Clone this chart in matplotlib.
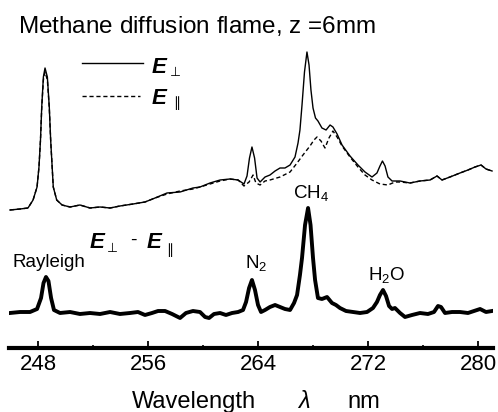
import matplotlib
matplotlib.use("Agg")
import matplotlib.pyplot as plt

plt.rcParams["font.family"] = ["Liberation Sans", "DejaVu Sans"]
plt.rcParams["mathtext.fontset"] = "custom"
plt.rcParams["mathtext.rm"] = "Liberation Sans"
plt.rcParams["mathtext.it"] = "Liberation Sans:italic"
plt.rcParams["mathtext.default"] = "regular"

# E_perp spectrum (solid), wavelength in nm / intensity in arb. units
perp_wl = [245.96, 246.69, 247.27, 247.64, 247.93, 248.07, 248.18, 248.27, 248.39, 248.51,
           248.68, 248.82, 248.92, 249.11, 249.36, 249.75, 250.33, 251.05, 251.78, 252.51,
           253.24, 253.96, 254.91, 255.78, 256.51, 257.38, 258.33, 259.27, 259.78, 260.51,
           261.24, 261.96, 262.55, 262.98, 263.2, 263.38, 263.56, 263.75, 263.93, 264.15,
           264.51, 264.87, 265.24, 265.6, 265.96, 266.33, 266.69, 266.91, 267.05, 267.2,
           267.38, 267.56, 267.71, 267.85, 268.0, 268.18, 268.36, 268.65, 268.95, 269.24,
           269.45, 269.75, 270.11, 270.69, 271.27, 271.78, 272.29, 272.65, 272.87, 273.05,
           273.24, 273.45, 273.75, 274.33, 275.05, 275.78, 276.51, 277.02, 277.38, 277.96,
           278.69, 279.27, 279.78, 280.22, 280.58, 281.02]
perp_int = [138, 139, 140, 148, 161, 181, 208, 241, 271, 280,
            271, 241, 208, 161, 148, 143, 141, 143, 140, 141,
            140, 142, 144, 146, 150, 155, 156, 160, 161, 165,
            168, 169, 168, 164, 172, 190, 201, 190, 170, 166,
            171, 173, 177, 180, 180, 183, 191, 205, 218, 243,
            276, 296, 283, 258, 240, 230, 227, 220, 218, 223,
            221, 214, 203, 192, 183, 176, 171, 175, 182, 187,
            182, 171, 167, 167, 165, 167, 168, 172, 168, 171,
            175, 178, 181, 183, 179, 177]

# E_par spectrum (dashed)
par_wl = [245.96, 246.69, 247.27, 247.64, 247.93, 248.07, 248.18, 248.27, 248.39, 248.51,
          248.68, 248.82, 248.92, 249.11, 249.36, 249.75, 250.33, 251.05, 251.78, 252.51,
          253.24, 253.96, 254.91, 255.78, 256.51, 257.38, 258.33, 259.27, 259.78, 260.51,
          261.24, 261.96, 262.55, 262.98, 263.35, 263.64, 263.85, 264.15, 264.51, 264.87,
          265.6, 266.33, 266.84, 267.27, 267.78, 268.07, 268.29, 268.58, 268.87, 269.16,
          269.45, 269.75, 270.11, 270.69, 271.27, 271.78, 272.29, 272.87, 273.45, 273.96,
          274.33, 275.05, 275.78, 276.51, 277.02, 277.38, 277.96, 278.69, 279.27, 279.78,
          280.22, 280.58, 281.02]
par_int = [138, 139, 140, 148, 161, 181, 208, 240, 268, 276,
           268, 240, 208, 161, 148, 143, 141, 143, 140, 141,
           140, 142, 144, 146, 150, 154, 157, 159, 161, 164,
           167, 169, 168, 162, 166, 173, 165, 163, 167, 168,
           171, 176, 185, 193, 202, 208, 211, 207, 200, 210,
           217, 211, 202, 191, 181, 173, 168, 164, 163, 166,
           166, 165, 167, 168, 172, 168, 171, 175, 178, 181,
           183, 179, 177]

# E_perp - E_par (thick)
diff_wl = [245.96, 246.69, 247.42, 247.93, 248.22, 248.4, 248.58, 248.76, 248.95, 249.16,
           249.6, 250.33, 251.05, 251.78, 252.51, 253.24, 253.96, 254.69, 255.27, 255.78,
           256.29, 256.73, 257.24, 257.75, 258.33, 258.76, 259.27, 259.78, 260.15, 260.44,
           260.8, 261.24, 261.67, 262.11, 262.55, 262.91, 263.13, 263.35, 263.56, 263.78,
           264.0, 264.22, 264.51, 264.87, 265.24, 265.6, 265.96, 266.33, 266.62, 266.84,
           267.05, 267.2, 267.42, 267.64, 267.82, 268.0, 268.15, 268.36, 268.65, 269.02,
           269.38, 269.67, 269.96, 270.4, 270.91, 271.42, 271.93, 272.36, 272.65, 272.87,
           273.09, 273.31, 273.53, 273.75, 273.96, 274.33, 274.69, 275.2, 275.78, 276.36,
           276.8, 277.09, 277.31, 277.6, 278.11, 278.69, 279.27, 279.71, 280.15, 280.58,
           281.02]
diff_int = [35, 36, 36, 39, 50, 65, 71, 67, 50, 38,
            35, 36, 34, 35, 34, 36, 34, 35, 36, 33,
            35, 37, 37, 34, 30, 35, 37, 36, 31, 30,
            34, 35, 33, 35, 36, 38, 46, 60, 68, 58,
            43, 36, 38, 41, 43, 41, 39, 38, 45, 53,
            73, 90, 123, 140, 123, 90, 68, 50, 49, 51,
            45, 43, 40, 37, 36, 35, 36, 40, 46, 53,
            58, 52, 42, 39, 40, 35, 31, 33, 35, 34,
            36, 42, 41, 35, 36, 36, 35, 37, 39, 36,
            37]

major_ticks = [248, 256, 264, 272, 280]
minor_ticks = [252, 260, 268, 276]

fig = plt.figure(figsize=(4.98, 4.12), dpi=100)
ax = fig.add_axes([9 / 498, 64 / 412, 484 / 498, 348 / 412])

ax.plot(perp_wl, perp_int, color="black", lw=1.0)
ax.plot(par_wl, par_int, color="black", lw=1.0, ls=(0, (3, 2)))
ax.plot(diff_wl, diff_int, color="black", lw=2.8, solid_joinstyle="round")

ax.set_xlim(245.89, 281.09)
ax.set_ylim(0, 348)
for s in ["left", "right", "top"]:
    ax.spines[s].set_visible(False)
ax.spines["bottom"].set_linewidth(3)
ax.set_yticks([])
ax.set_xticks(major_ticks)
ax.set_xticks(minor_ticks, minor=True)
ax.tick_params(axis="x", which="major", direction="in", length=5, width=1.3,
               labelsize=16, pad=4)
ax.tick_params(axis="x", which="minor", direction="in", length=2.5, width=1.2)

# title
ax.text(246.55, 315, "Methane diffusion flame, $z$ =6mm", fontsize=17.5,
        va="baseline")

# legend
ax.plot([251.2, 255.64], [285, 285], color="black", lw=1.0)
ax.plot([251.2, 255.42], [252, 252], color="black", lw=1.0, ls=(0, (3, 2)))
ax.text(256.29, 275, "E", fontsize=16, weight="bold", style="italic", va="baseline")
ax.text(257.6, 272, "⊥", fontsize=9, va="baseline", family="DejaVu Sans")
ax.text(256.29, 244, "E", fontsize=16, weight="bold", style="italic", va="baseline")
ax.text(257.82, 241, "∥", fontsize=10, va="baseline", family="DejaVu Sans")

# difference label
ax.text(251.78, 100, "E", fontsize=16, weight="bold", style="italic", va="baseline")
ax.text(253.02, 96, "⊥", fontsize=9, va="baseline", family="DejaVu Sans")
ax.text(254.91, 108, "-", fontsize=14, ha="center", va="center")
ax.text(255.93, 100, "E", fontsize=16, weight="bold", style="italic", va="baseline")
ax.text(257.31, 94, "∥", fontsize=10, va="baseline", family="DejaVu Sans")

# peak labels
ax.text(246.18, 81, "Rayleigh", fontsize=13.5, va="baseline")
ax.text(263.05, 80, "N$_2$", fontsize=13.5, va="baseline")
ax.text(266.55, 150, "CH$_4$", fontsize=13.5, va="baseline")
ax.text(272.0, 68, "H$_2$O", fontsize=13.5, va="baseline")

# x label
ax.text(254.84, -60, "Wavelength", fontsize=17, va="baseline", clip_on=False)
ax.text(266.9, -60, "λ", fontsize=17, style="italic", va="baseline", clip_on=False)
ax.text(270.47, -60, "nm", fontsize=17, va="baseline", clip_on=False)

fig.savefig("out.png", dpi=100)
